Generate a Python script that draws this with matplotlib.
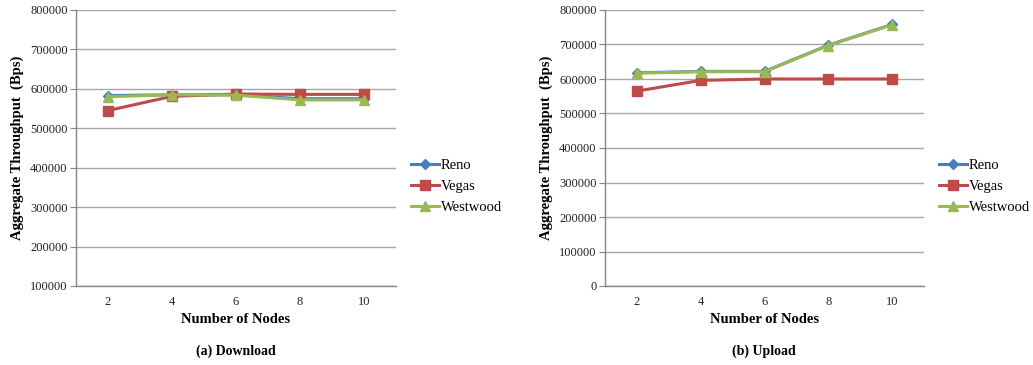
import numpy as np
import matplotlib.pyplot as plt

plt.rcParams['font.family'] = ['Liberation Serif', 'DejaVu Serif']

nodes = ['2', '4', '6', '8', '10']

# aggregate throughput (Bps), download
down_reno = [583000, 585000, 585000, 575000, 575000]
down_vegas = [545000, 581000, 587000, 586000, 586000]
down_westwood = [580000, 585000, 584000, 572000, 572000]

# aggregate throughput (Bps), upload
up_reno = [618000, 622000, 622000, 698000, 758000]
up_vegas = [565000, 596000, 600000, 600000, 600000]
up_westwood = [617000, 621000, 621000, 697000, 757000]

series = ['Reno', 'Vegas', 'Westwood']
colors = ['#4a7ebb', '#be4b48', '#98b954']
markers = ['D', 's', '^']
msizes = [5.5, 7, 7.5]

grid_col = '#a6a6a6'


def draw(ax, data, ymin, ymax):
    x = np.arange(len(nodes))
    for vals, name, c, m, ms in zip(data, series, colors, markers, msizes):
        ax.plot(x, vals, color=c, marker=m, markersize=ms, lw=2.2, label=name)
    ax.set_xlim(-0.5, len(nodes) - 0.5)
    ax.set_ylim(ymin, ymax)
    ax.set_yticks(np.arange(ymin, ymax + 1, 100000))
    ax.set_xticks(x)
    ax.set_xticklabels(nodes)
    ax.grid(axis='y', color=grid_col, lw=1.0)
    ax.set_axisbelow(True)
    for s in ['top', 'right']:
        ax.spines[s].set_visible(False)
    for s in ['left', 'bottom']:
        ax.spines[s].set_color('#868686')
        ax.spines[s].set_linewidth(1.0)
    ax.tick_params(axis='y', length=4, color='#868686', labelsize=9, pad=2,
                   labelcolor='#222222')
    ax.tick_params(axis='x', length=0, labelsize=9, pad=7, labelcolor='#222222')
    ax.set_xlabel('Number of Nodes', fontsize=10.5, fontweight='bold', labelpad=4)
    ax.set_ylabel('Aggregate Throughput  (Bps)', fontsize=10.5,
                  fontweight='bold', labelpad=4)
    ax.legend(loc='center left', bbox_to_anchor=(1.03, 0.36), frameon=False,
              fontsize=10.5, handlelength=1.9, handletextpad=0.1,
              labelspacing=0.55, borderaxespad=0)


fig = plt.figure(figsize=(10.33, 3.65), dpi=100)
ax1 = fig.add_axes([76 / 1033, 79 / 365, 320 / 1033, 276 / 365])
ax2 = fig.add_axes([605 / 1033, 79 / 365, 319 / 1033, 276 / 365])

draw(ax1, [down_reno, down_vegas, down_westwood], 100000, 800000)
draw(ax2, [up_reno, up_vegas, up_westwood], 0, 800000)

fig.text(236 / 1033, 1 - 351 / 365, '(a) Download', ha='center', va='center',
         fontsize=10, fontweight='bold')
fig.text(764 / 1033, 1 - 351 / 365, '(b) Upload', ha='center', va='center',
         fontsize=10, fontweight='bold')

fig.savefig('out.png', dpi=100)
